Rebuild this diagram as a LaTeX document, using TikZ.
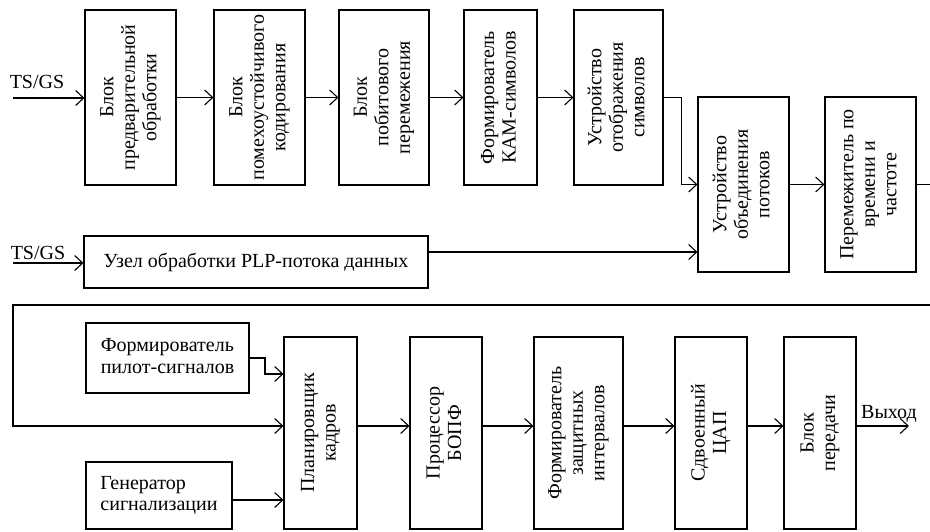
\documentclass[tikz,border=0pt]{standalone}
\usepackage{fontspec}
\setmainfont{Liberation Serif}
\usetikzlibrary{arrows.meta}
\newcommand\rt[1]{\rotatebox{90}{\begin{tabular}{@{}c@{}}#1\end{tabular}}}
\newcommand\bx[7][]{\node[box,#1,minimum width={(#4-#2)*1pt},minimum height={(#5-#3)*1pt}] (#6) at ({(#2+#4)/2},{(#3+#5)/2}) {#7};}
\tikzset{
  box/.style={draw, line width=1.1pt, inner sep=0pt, align=center},
  ln/.style={line width=1.1pt},
  arr/.style={line width=1.1pt, -{Straight Barb[length=8pt,width=15pt,line width=1.1pt]}},
  lbl/.style={inner sep=0pt},
}
\begin{document}
\begin{tikzpicture}[x=1pt,y=-1pt,every node/.style={font=\fontsize{20}{21.5}\selectfont}]
\useasboundingbox (0,0) rectangle (930,531);
% top row
\bx{85}{10}{176}{185}{b1}{\rt{Блок\\предварительной\\обработки}}
\bx{214}{10}{305}{185}{b2}{\rt{Блок\\помехоустойчивого\\кодирования}}
\bx{339}{10}{429}{185}{b3}{\rt{Блок\\побитового\\перемежения}}
\bx{464}{10}{537}{185}{b4}{\rt{Формирователь\\КАМ-символов}}
\bx{574}{10}{663}{185}{b5}{\rt{Устройство\\отображения\\символов}}
\bx{698}{97}{789}{272}{b6}{\rt{Устройство\\объединения\\потоков}}
\bx{825}{97}{916}{272}{b7}{\rt{Перемежитель по\\времени и\\частоте}}
% middle
\bx{84}{236}{428}{288}{plp}{Узел обработки PLP-потока данных}
% bottom
\bx{86}{323}{249}{393}{pil}{\begin{tabular}{@{}l@{}}Формирователь\\пилот-сигналов\end{tabular}}
\bx{86}{462}{232}{529}{gen}{\begin{tabular}{@{}l@{}}Генератор\\сигнализации\end{tabular}}
\bx{284}{337}{357}{529}{plan}{\rt{Планировщик\\кадров}}
\bx{410}{337}{482}{529}{bopf}{\rt{Процессор\\БОПФ}}
\bx{534}{337}{623}{529}{zi}{\rt{Формирователь\\защитных\\интервалов}}
\bx{675}{337}{747}{529}{dac}{\rt{Сдвоенный\\ЦАП}}
\bx{784}{337}{856}{529}{tx}{\rt{Блок\\передачи}}
% inputs / outputs
\coordinate (in1) at (13,98);
\coordinate (in2) at (13,263);
\coordinate (out) at (909,426);
\node[lbl] (ts1) at (37,82) {TS/GS};
\node[lbl] (ts2) at (38,253) {TS/GS};
\node[lbl] (vyh) at (889,414) {Выход};
% connectors
\draw[arr] (in1) -- (b1.west |- in1);
\draw[arr] (b1) -- (b2);
\draw[arr] (b2) -- (b3);
\draw[arr] (b3) -- (b4);
\draw[arr] (b4) -- (b5);
\draw[arr] (b5.east) -- ++(18,0) |- (b6.west);
\draw[arr] (in2) -- (plp.west |- in2);
\draw[arr] (plp.east |- 0,252) -- (b6.west |- 0,252);
\draw[arr] (b6) -- (b7);
\draw[arr] (b7.east) -- (940,184.5) -- (940,305) -- (13,305) -- (13,426) -- (plan.west |- 0,426);
\draw[arr] (pil.east) -- (265,358) |- (plan.west |- 0,374);
\draw[arr] (gen.east |- 0,500) -- (plan.west |- 0,500);
\draw[arr] (plan.east |- 0,426) -- (bopf.west |- 0,426);
\draw[arr] (bopf.east |- 0,426) -- (zi.west |- 0,426);
\draw[arr] (zi.east |- 0,426) -- (dac.west |- 0,426);
\draw[arr] (dac.east |- 0,426) -- (tx.west |- 0,426);
\draw[arr] (tx.east |- 0,426) -- (out);
\end{tikzpicture}
\end{document}
